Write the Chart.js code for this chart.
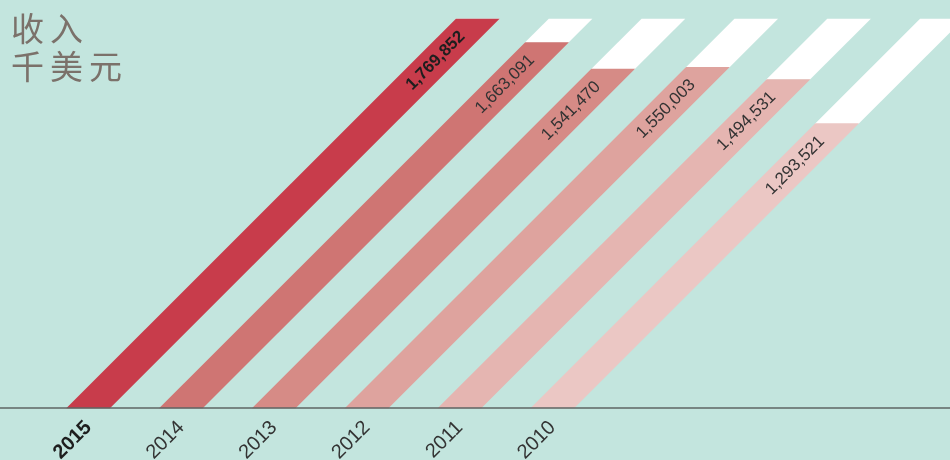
<!DOCTYPE html>
<html><head><meta charset="utf-8">
<script src="https://cdn.jsdelivr.net/npm/chart.js@4"></script>
<style>html,body{margin:0;padding:0;background:#c3e5de;overflow:hidden}canvas{display:block}</style>
</head><body>
<canvas id="c" width="950" height="460"></canvas>
<script>
const years = ['2015', '2014', '2013', '2012', '2011', '2010'];
const revenue = [1769852, 1663091, 1541470, 1550003, 1494531, 1293521];
const titleLines = ['收入', '千美元'];
const yMax = 1769852;

const barColors = ['#c83c4b', '#cf7573', '#d68b86', '#dea39e', '#e5b5b1', '#ebc7c4'];
const SKEW = 1;

const skewPlugin = {
  id: 'skew',
  beforeDraw(chart) {
    const ctx = chart.ctx;
    ctx.save();
    ctx.fillStyle = '#c3e5de';
    ctx.fillRect(0, 0, chart.width, chart.height);
    ctx.restore();
  },
  beforeDatasetsDraw(chart) {
    const ctx = chart.ctx;
    const base = chart.scales.y.getPixelForValue(0);
    ctx.save();
    ctx.transform(1, 0, -SKEW, 1, SKEW * base, 0);
  },
  afterDatasetsDraw(chart) {
    const ctx = chart.ctx;
    ctx.restore();
    const base = chart.scales.y.getPixelForValue(0);
    const meta = chart.getDatasetMeta(0);
    meta.data.forEach((bar, i) => {
      const top = bar.y;
      const cx = bar.x + SKEW * (base - top);
      const d = 15;
      const ax = cx - SKEW * d, ay = top + d;
      ctx.save();
      ctx.translate(ax, ay);
      ctx.rotate(Math.atan2(-1, SKEW));
      ctx.textAlign = 'right';
      ctx.textBaseline = 'middle';
      ctx.fillStyle = i === 0 ? '#1e1e1e' : '#333333';
      ctx.font = (i === 0 ? 'bold ' : '') + '17px "Liberation Sans", Arial, sans-serif';
      ctx.fillText(revenue[i].toLocaleString('en-US'), 0, 0);
      ctx.restore();
    });
  },
  afterDraw(chart) {
    const ctx = chart.ctx;
    const base = chart.scales.y.getPixelForValue(0);
    ctx.save();
    ctx.strokeStyle = '#5e6563';
    ctx.lineWidth = 1.5;
    ctx.beginPath();
    ctx.moveTo(0, base);
    ctx.lineTo(chart.width, base);
    ctx.stroke();
    ctx.fillStyle = '#7b716a';
    ctx.font = '33px "Noto Sans CJK SC", sans-serif';
    ctx.letterSpacing = '6px';
    ctx.textBaseline = 'top';
    ctx.textAlign = 'left';
    titleLines.forEach((t, i) => ctx.fillText(t, 11, 12 + i * 38));
    ctx.restore();
  }
};

new Chart(document.getElementById('c'), {
  type: 'bar',
  data: {
    labels: years,
    datasets: [
      {
        data: revenue,
        backgroundColor: barColors,
        borderWidth: 0,
        grouped: false,
        clip: false
      },
      {
        data: revenue.map(v => [v, yMax]),
        backgroundColor: '#ffffff',
        borderWidth: 0,
        grouped: false,
        clip: false
      }
    ]
  },
  options: {
    responsive: false,
    animation: false,
    events: [],
    layout: { padding: { left: 42, right: 351, top: 19, bottom: 0 } },
    barThickness: 43,
    plugins: { legend: { display: false }, tooltip: { enabled: false }, title: { display: false } },
    scales: {
      y: { display: false, min: 0, max: yMax },
      x: {
        grid: { display: false, drawTicks: false },
        border: { display: false },
        afterFit(scale) { scale.height = 52; scale.paddingLeft = 0; scale.paddingRight = 0; },
        ticks: {
          autoSkip: false,
          minRotation: 45,
          maxRotation: 45,
          padding: 8,
          color: (c) => c.index === 0 ? '#1e1e1e' : '#333333',
          font: (c) => ({ size: 20, family: '"Liberation Sans", Arial, sans-serif', weight: c.index === 0 ? 'bold' : 'normal' })
        }
      }
    }
  },
  plugins: [skewPlugin]
});
</script>
</body></html>
